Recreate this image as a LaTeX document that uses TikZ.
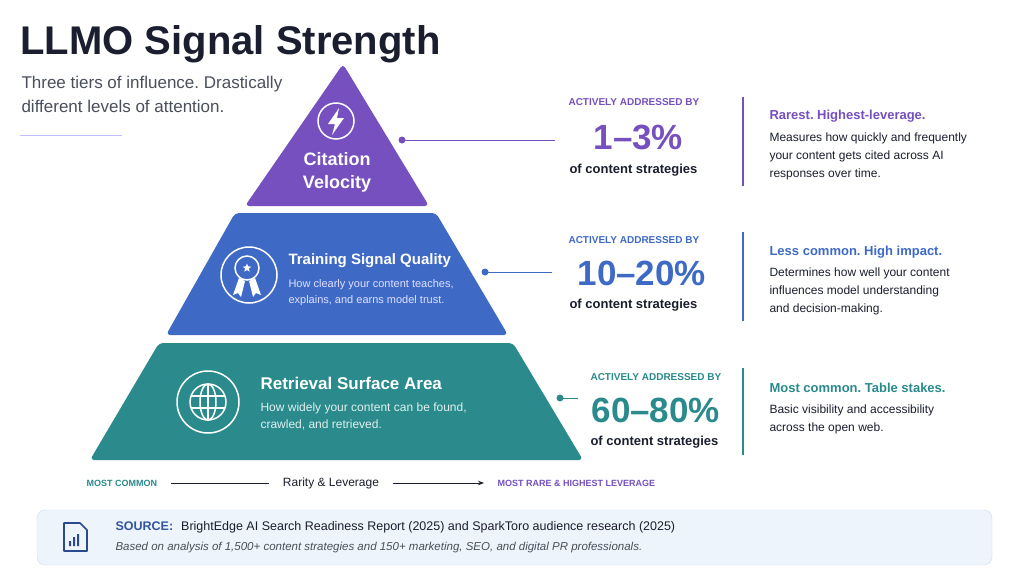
\documentclass[tikz,border=0pt]{standalone}
\usepackage{fontspec}
\setmainfont{Liberation Sans}
\usetikzlibrary{arrows.meta,shapes.geometric}
\definecolor{cpur}{HTML}{7550BE}
\definecolor{cblu}{HTML}{3E6AC6}
\definecolor{ctea}{HTML}{2A8A8C}
\definecolor{cdark}{HTML}{1B1E2E}
\definecolor{cgray}{HTML}{4A4F5C}
\definecolor{cbox}{HTML}{EEF4FB}
\definecolor{cboxb}{HTML}{CFDCEE}
\frenchspacing
\begin{document}
\begin{tikzpicture}[x=1pt,y=-1pt,
  lbl/.style={font=\bfseries\fontsize{10}{12}\selectfont,anchor=west},
  big/.style={font=\bfseries\fontsize{35}{38}\selectfont,anchor=west},
  ofc/.style={font=\bfseries\fontsize{13}{15}\selectfont,text=cdark,anchor=west},
  rh/.style={font=\bfseries\fontsize{13}{15}\selectfont,anchor=west},
  rd/.style={font=\fontsize{12}{18}\selectfont,text=cdark,anchor=north west,align=left},
  wt/.style={text=white,anchor=west,align=left},
  ic/.style={draw=white,line width=1.5pt,fill=none}]
\useasboundingbox (0,0) rectangle (1024,576);
\fill[white] (0,0) rectangle (1024,576);
% title
\node[anchor=west,font=\bfseries\fontsize{40}{44}\selectfont,text=cdark] (title) at (17,44) {LLMO Signal Strength};
\node[anchor=north west,align=left,font=\fontsize{17}{24}\selectfont,text=cgray] (sub) at (18,73) {Three tiers of influence. Drastically\\different levels of attention.};
\draw[blue!25,line width=1pt] (20,135) -- (122,135);
% pyramid
\fill[cpur,rounded corners=4pt] (343,64) -- (429,206) -- (245,206) -- cycle;
\fill[cblu,rounded corners=4pt] (235,213) -- (436,213) -- (508,335) -- (166,335) -- cycle;
\fill[ctea,rounded corners=4pt] (159,343) -- (513,343) -- (583,460) -- (90,460) -- cycle;
% tier1 icon + label
\draw[ic] (336,121) circle (18);
\fill[white] (339,108) -- (328,124) -- (335,124) -- (332,135) -- (344,118) -- (337,118) -- cycle;
\node[font=\bfseries\fontsize{18}{23}\selectfont,text=white,align=center] (t1) at (337,172) {Citation\\Velocity};
% tier2 icon
\draw[ic] (249,275) circle (28);
\draw[ic] (247,268) circle (12);
\node[star,star points=5,star point ratio=2.3,fill=white,inner sep=0pt,minimum size=9pt] at (247,268) {};
\fill[white] (239,278) -- (233,295) -- (238,293) -- (241,297) -- (245,281) -- cycle;
\fill[white] (255,278) -- (261,295) -- (256,293) -- (253,297) -- (249,281) -- cycle;
\node[wt,font=\bfseries\fontsize{15}{18}\selectfont] (t2) at (285,261) {Training Signal Quality};
\node[wt,anchor=north west,font=\fontsize{11}{16}\selectfont,text=white!88!blue] (t2d) at (285,276) {How clearly your content teaches,\\explains, and earns model trust.};
% tier3 icon
\draw[ic] (208,402) circle (31);
\draw[ic] (208,402) circle (18);
\draw[ic] (208,402) ellipse (8 and 18);
\draw[ic] (208,384) -- (208,420);
\draw[ic] (191,396) -- (225,396) (191,408) -- (225,408);
\node[wt,font=\bfseries\fontsize{17}{20}\selectfont] (t3) at (257,383) {Retrieval Surface Area};
\node[wt,anchor=north west,font=\fontsize{12}{17}\selectfont,text=white!88!teal] (t3d) at (257,399) {How widely your content can be found,\\crawled, and retrieved.};
% connectors
\coordinate (d1) at (402,140); \coordinate (e1) at (555,140);
\coordinate (d2) at (485,272); \coordinate (e2) at (552,272);
\coordinate (d3) at (560,398); \coordinate (e3) at (578,398);
\draw[cpur,line width=1pt] (d1) -- (e1); \fill[cpur] (d1) circle (3.5);
\draw[cblu,line width=1pt] (d2) -- (e2); \fill[cblu] (d2) circle (3.5);
\draw[ctea,line width=1pt] (d3) -- (e3); \fill[ctea] (d3) circle (3.5);
% stats
\node[lbl,text=cpur] (a1) at (565,102) {ACTIVELY ADDRESSED BY};
\node[big,text=cpur] (n1) at (590,137) {1--3\%};
\node[ofc] (o1) at (566,170) {of content strategies};
\node[lbl,text=cblu] (a2) at (565,240) {ACTIVELY ADDRESSED BY};
\node[big,text=cblu] (n2) at (574,273) {10--20\%};
\node[ofc] (o2) at (566,305) {of content strategies};
\node[lbl,text=ctea] (a3) at (587,377) {ACTIVELY ADDRESSED BY};
\node[big,text=ctea] (n3) at (588,410) {60--80\%};
\node[ofc] (o3) at (587,442) {of content strategies};
% dividers
\draw[cpur,line width=1.2pt] (743,97) -- (743,186);
\draw[cblu,line width=1.2pt] (743,232) -- (743,321);
\draw[ctea,line width=1.2pt] (743,368) -- (743,455);
% right column
\node[rh,text=cpur] (r1) at (766,116) {Rarest. Highest-leverage.};
\node[rd] (r1d) at (766,129) {Measures how quickly and frequently\\your content gets cited across AI\\responses over time.};
\node[rh,text=cblu] (r2) at (766,252) {Less common. High impact.};
\node[rd] (r2d) at (766,264) {Determines how well your content\\influences model understanding\\and decision-making.};
\node[rh,text=ctea] (r3) at (766,388) {Most common. Table stakes.};
\node[rd] (r3d) at (766,401) {Basic visibility and accessibility\\across the open web.};
% axis
\node[anchor=west,font=\bfseries\fontsize{9}{11}\selectfont,text=ctea] (mc) at (83,483) {MOST COMMON};
\node[font=\fontsize{12}{14}\selectfont,text=cdark] (rl) at (331,483) {Rarity \& Leverage};
\node[anchor=west,font=\bfseries\fontsize{9}{11}\selectfont,text=cpur] (mr) at (494,483) {MOST RARE \& HIGHEST LEVERAGE};
\draw[cdark,line width=0.8pt] (mc.east) ++(10,0) -- ([xshift=-10pt]rl.west);
\draw[cdark,line width=0.8pt,-{Stealth[length=6pt]}] ([xshift=10pt]rl.east) -- ([xshift=-10pt]mr.west);
% source box
\filldraw[fill=cbox,draw=cboxb,rounded corners=8pt] (37,510) rectangle (992,565);
\draw[cblu!70!black,line width=1.6pt,line join=round] (64,523) -- (80,523) -- (87,530) -- (87,551) -- (64,551) -- cycle;
\fill[cblu!70!black] (69,546) rectangle (71,541) (73,546) rectangle (75,537) (77,546) rectangle (79,534);
\node[anchor=west,font=\fontsize{12.5}{14}\selectfont,text=cdark] (src) at (112,527) {\textbf{\color{cblu!80!black}SOURCE:}\hspace{8pt}BrightEdge AI Search Readiness Report (2025) and SparkToro audience research (2025)};
\node[anchor=west,font=\itshape\fontsize{11.5}{13}\selectfont,text=cgray] (src2) at (112,548) {Based on analysis of 1,500+ content strategies and 150+ marketing, SEO, and digital PR professionals.};
\end{tikzpicture}
\end{document}
